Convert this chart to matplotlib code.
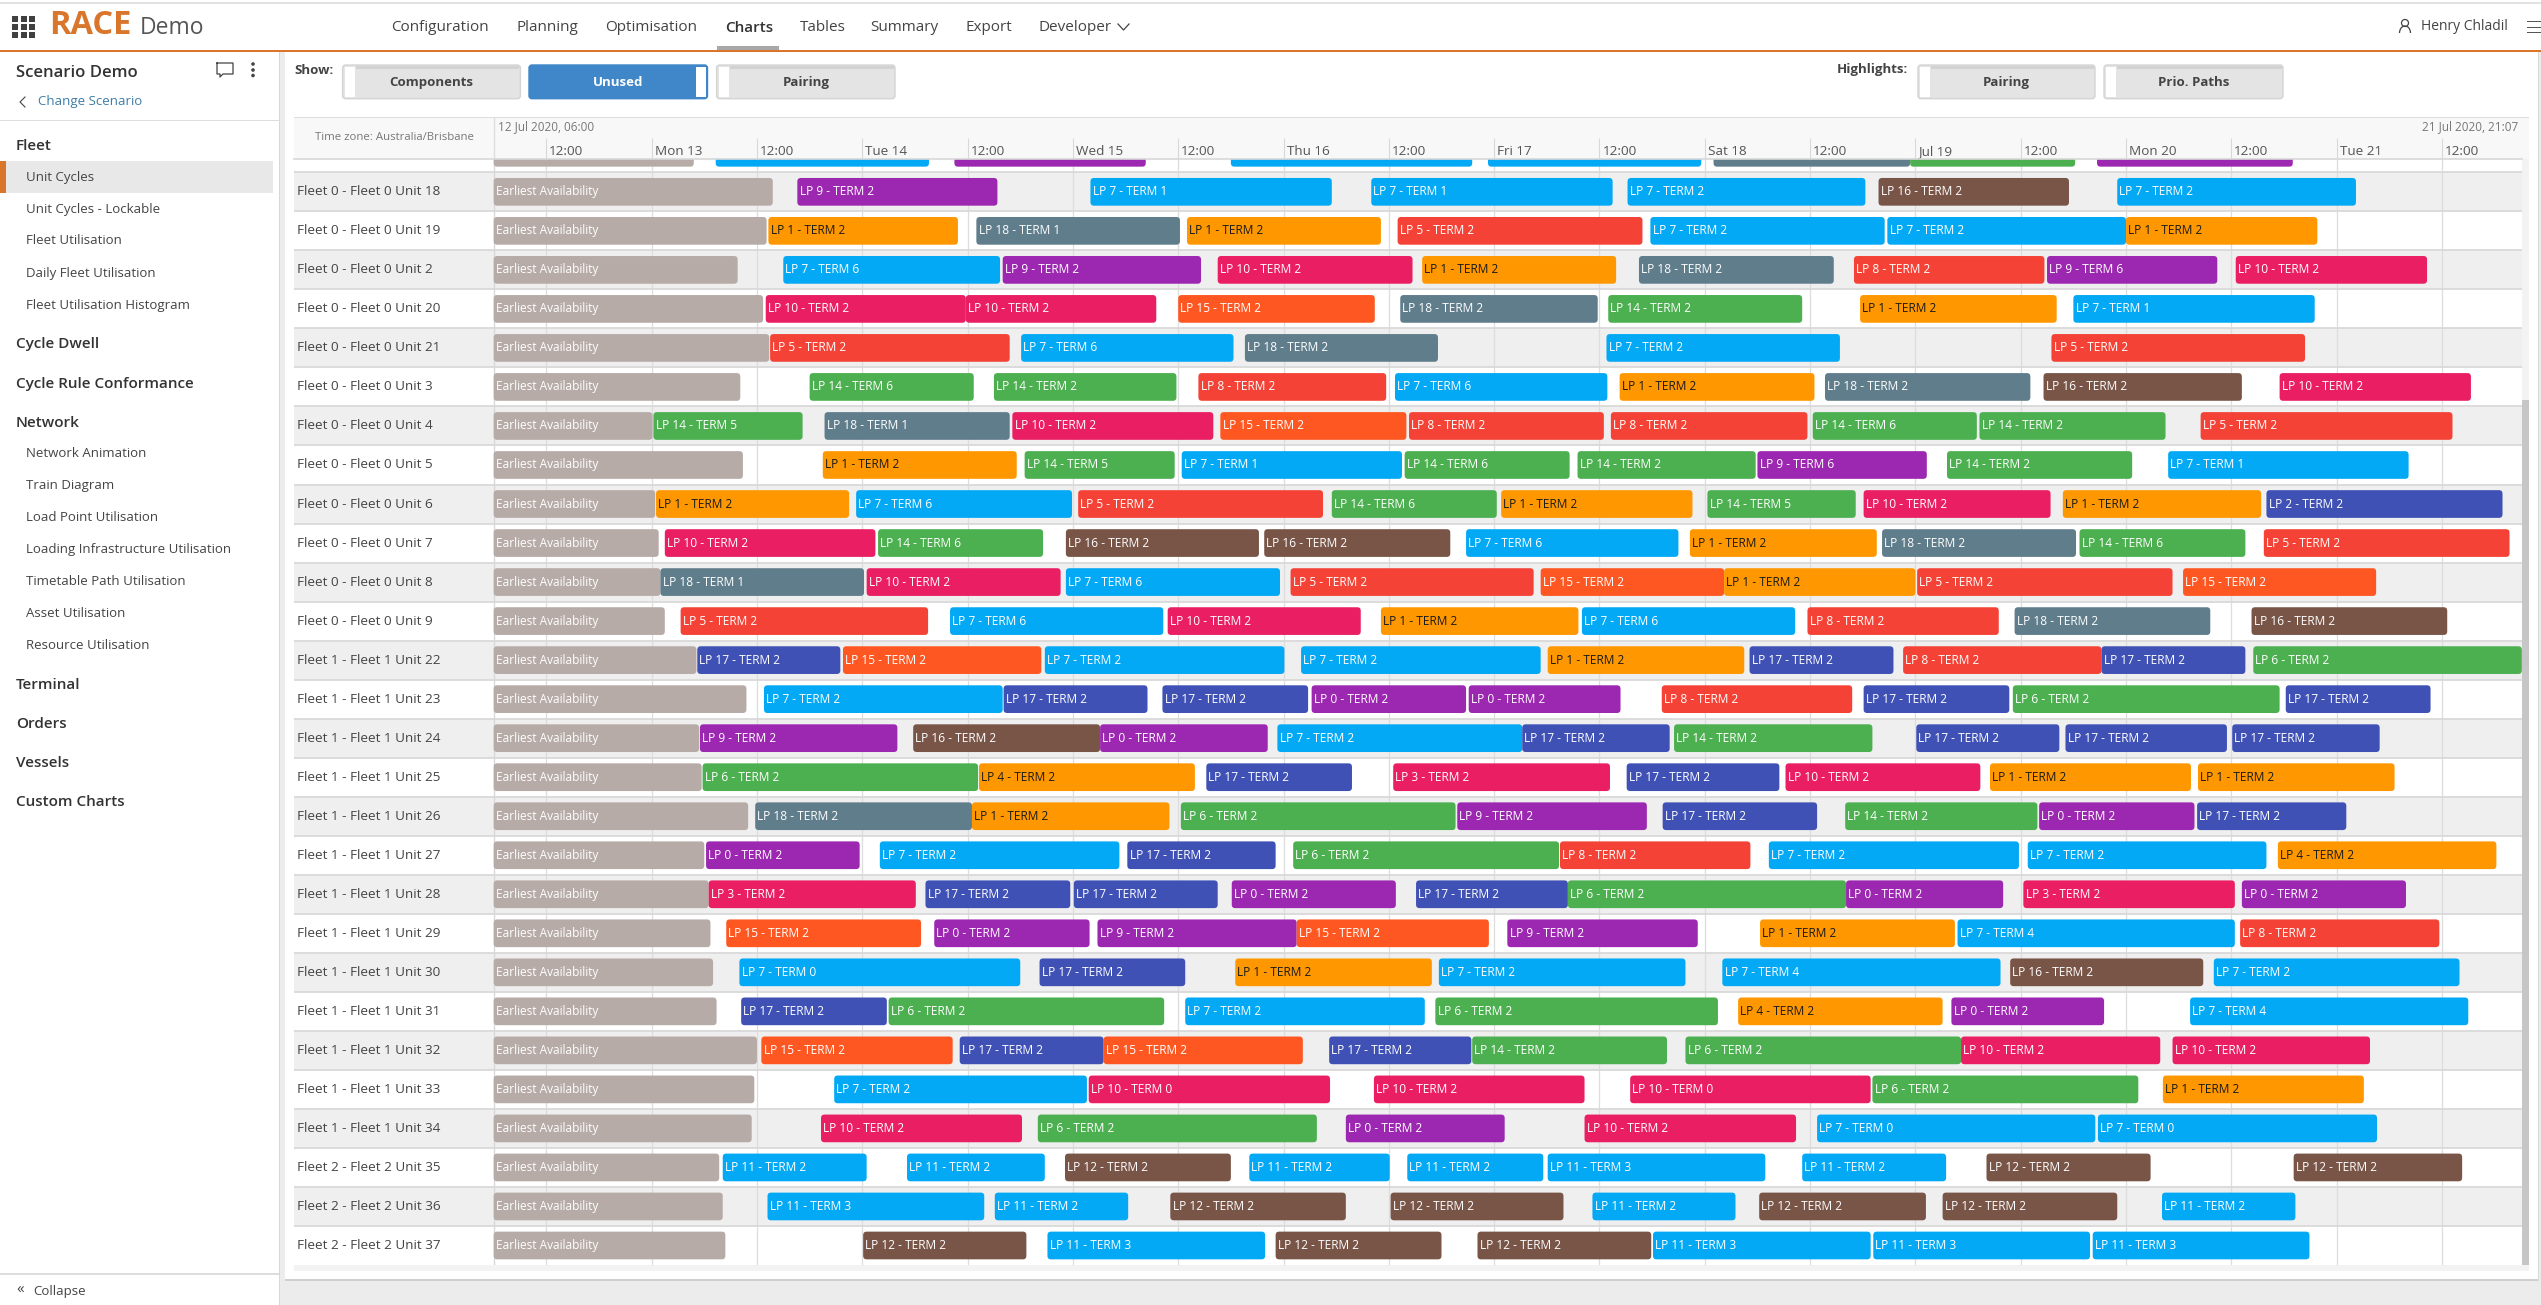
import matplotlib
matplotlib.use("Agg")
import matplotlib.pyplot as plt
from matplotlib.patches import FancyBboxPatch, Rectangle, Circle, Arc
from matplotlib.transforms import ScaledTranslation

plt.rcParams["font.family"] = ["Open Sans", "DejaVu Sans"]

# Data, all times are hours after 12 Jul 2020 00:00
unit_labels = [
    "Fleet 0 - Fleet 0 Unit 18", "Fleet 0 - Fleet 0 Unit 19", "Fleet 0 - Fleet 0 Unit 2",
    "Fleet 0 - Fleet 0 Unit 20", "Fleet 0 - Fleet 0 Unit 21", "Fleet 0 - Fleet 0 Unit 3",
    "Fleet 0 - Fleet 0 Unit 4", "Fleet 0 - Fleet 0 Unit 5", "Fleet 0 - Fleet 0 Unit 6",
    "Fleet 0 - Fleet 0 Unit 7", "Fleet 0 - Fleet 0 Unit 8", "Fleet 0 - Fleet 0 Unit 9",
    "Fleet 1 - Fleet 1 Unit 22", "Fleet 1 - Fleet 1 Unit 23", "Fleet 1 - Fleet 1 Unit 24",
    "Fleet 1 - Fleet 1 Unit 25", "Fleet 1 - Fleet 1 Unit 26", "Fleet 1 - Fleet 1 Unit 27",
    "Fleet 1 - Fleet 1 Unit 28", "Fleet 1 - Fleet 1 Unit 29", "Fleet 1 - Fleet 1 Unit 30",
    "Fleet 1 - Fleet 1 Unit 31", "Fleet 1 - Fleet 1 Unit 32", "Fleet 1 - Fleet 1 Unit 33",
    "Fleet 1 - Fleet 1 Unit 34", "Fleet 2 - Fleet 2 Unit 35", "Fleet 2 - Fleet 2 Unit 36",
    "Fleet 2 - Fleet 2 Unit 37",
]

# end of the "Earliest Availability" block, first entry is the row scrolled off at the top
earliest_end = [28.8, 37.8, 37.1, 33.8, 36.7, 37.4, 34.1, 24.1, 34.4, 24.4, 24.8, 25.0, 25.5,
                29.1, 34.8, 29.4, 29.7, 35.0, 30.0, 30.5, 30.7, 31.0, 31.4, 36.0, 35.7, 35.4,
                31.7, 32.1, 32.4]

# (load point, terminal, start, end)
# the first row is scrolled off, only the lower edge of its bars shows so no text on it
cut_off = [(7, 2, 31.3, 55.6), (9, 2, 58.5, 80.3), (7, 2, 90.0, 117.5), (7, 2, 119.3, 143.6),
           (18, 2, 145.0, 167.4), (14, 2, 167.4, 186.2), (9, 2, 188.7, 211.0)]
u18 = [(9, 2, 40.6, 63.4), (7, 1, 74.0, 101.5), (7, 1, 106.0, 133.5), (7, 2, 135.2, 162.3),
       (16, 2, 163.8, 185.5), (7, 2, 191.0, 218.2)]
u19 = [(1, 2, 37.3, 58.9), (18, 1, 61.0, 84.2), (1, 2, 85.0, 107.1), (5, 2, 109.0, 136.9),
       (7, 2, 137.8, 164.5), (7, 2, 164.8, 192.0), (1, 2, 192.0, 213.8)]
u2 = [(7, 6, 39.0, 63.7), (9, 2, 64.0, 86.6), (10, 2, 88.5, 110.7), (1, 2, 111.8, 133.9),
      (18, 2, 136.5, 158.7), (8, 2, 161.0, 182.7), (9, 6, 183.0, 202.4), (10, 2, 204.5, 226.3)]
u20 = [(10, 2, 37.0, 59.8), (10, 2, 59.8, 81.5), (15, 2, 84.0, 106.4), (18, 2, 109.3, 131.8),
       (14, 2, 133.0, 155.1), (1, 2, 161.7, 184.1), (7, 1, 186.0, 213.5)]
u21 = [(5, 2, 37.5, 64.8), (7, 6, 66.1, 90.3), (18, 2, 91.6, 113.6), (7, 2, 132.8, 159.4),
       (5, 2, 183.5, 212.4)]
u3 = [(14, 6, 42.0, 60.7), (14, 2, 63.0, 83.8), (8, 2, 86.3, 107.7), (7, 6, 108.7, 132.9),
      (1, 2, 134.3, 156.5), (18, 2, 157.7, 181.1), (16, 2, 182.6, 205.2), (10, 2, 209.5, 231.3)]
u4 = [(14, 5, 24.2, 41.2), (18, 1, 43.7, 64.8), (10, 2, 65.1, 88.0), (15, 2, 88.8, 110.0),
      (8, 2, 110.3, 132.5), (8, 2, 133.3, 155.7), (14, 6, 156.3, 175.0), (14, 2, 175.3, 196.5),
      (5, 2, 200.5, 229.2)]
u5 = [(1, 2, 43.5, 65.6), (14, 5, 66.5, 83.6), (7, 1, 84.4, 109.5), (14, 6, 109.8, 128.6),
      (14, 2, 129.5, 149.8), (9, 6, 150.0, 169.3), (14, 2, 171.6, 192.7), (7, 1, 196.8, 224.2)]
u6 = [(1, 2, 24.5, 46.5), (7, 6, 47.3, 71.9), (5, 2, 72.6, 100.5), (14, 6, 101.5, 120.3),
      (1, 2, 120.8, 142.6), (14, 5, 144.3, 161.2), (10, 2, 162.1, 183.4), (1, 2, 184.8, 207.4),
      (2, 2, 208.0, 234.9)]
u7 = [(10, 2, 25.5, 49.5), (14, 6, 49.8, 68.6), (16, 2, 71.2, 93.2), (16, 2, 93.8, 115.0),
      (7, 6, 116.8, 141.0), (1, 2, 142.3, 163.6), (18, 2, 164.2, 186.3), (14, 6, 186.7, 205.6),
      (5, 2, 207.7, 235.7)]
u8 = [(18, 1, 25.0, 48.2), (10, 2, 48.5, 70.6), (7, 6, 71.2, 95.6), (5, 2, 96.8, 124.5),
      (15, 2, 125.3, 146.2), (1, 2, 146.2, 168.0), (5, 2, 168.2, 197.3), (15, 2, 198.5, 220.5)]
u9 = [(5, 2, 27.3, 55.5), (7, 6, 58.0, 82.3), (10, 2, 82.8, 104.8), (1, 2, 107.1, 129.6),
      (7, 6, 130.0, 154.3), (8, 2, 155.7, 177.5), (18, 2, 179.3, 201.6), (16, 2, 206.3, 228.6)]
u22 = [(17, 2, 29.2, 45.5), (15, 2, 45.8, 68.4), (7, 2, 68.8, 96.1), (7, 2, 98.0, 125.3),
       (1, 2, 126.1, 148.5), (17, 2, 149.1, 165.5), (8, 2, 166.6, 189.2), (17, 2, 189.2, 205.6),
       (6, 2, 206.5, 237.1)]
u23 = [(7, 2, 36.8, 64.0), (17, 2, 64.1, 80.5), (17, 2, 82.2, 98.8), (0, 2, 99.2, 116.8),
       (0, 2, 117.1, 134.4), (8, 2, 139.1, 160.8), (17, 2, 162.1, 178.7), (6, 2, 179.1, 209.5),
       (17, 2, 210.2, 226.7)]
u24 = [(9, 2, 29.5, 52.0), (16, 2, 53.8, 75.1), (0, 2, 75.1, 94.2), (7, 2, 95.3, 123.2),
       (17, 2, 123.2, 140.0), (14, 2, 140.5, 163.1), (17, 2, 168.1, 184.4), (17, 2, 185.1, 203.5),
       (17, 2, 204.1, 220.9)]
u25 = [(6, 2, 29.8, 61.2), (4, 2, 61.3, 85.9), (17, 2, 87.2, 103.8), (3, 2, 108.5, 133.2),
       (17, 2, 135.1, 152.5), (10, 2, 153.2, 175.4), (1, 2, 176.5, 199.4), (1, 2, 200.2, 222.6)]
u26 = [(18, 2, 35.8, 60.5), (1, 2, 60.5, 83.0), (6, 2, 84.3, 115.6), (9, 2, 115.8, 137.4),
       (17, 2, 139.2, 156.8), (14, 2, 160.0, 181.9), (0, 2, 182.1, 199.8), (17, 2, 200.1, 217.1)]
u27 = [(0, 2, 30.2, 47.7), (7, 2, 50.0, 77.3), (17, 2, 78.2, 95.1), (6, 2, 97.1, 127.4),
       (8, 2, 127.5, 149.2), (7, 2, 151.3, 179.8), (7, 2, 180.8, 208.0), (4, 2, 209.3, 234.2)]
u28 = [(3, 2, 30.5, 54.1), (17, 2, 55.2, 71.7), (17, 2, 72.1, 88.5), (0, 2, 90.1, 108.8),
       (17, 2, 111.1, 128.4), (6, 2, 128.4, 160.1), (0, 2, 160.1, 178.0), (3, 2, 180.3, 204.4),
       (0, 2, 205.2, 223.9)]
u29 = [(15, 2, 32.5, 54.7), (0, 2, 56.2, 73.9), (9, 2, 74.8, 97.5), (15, 2, 97.5, 119.4),
       (9, 2, 121.5, 143.2), (1, 2, 150.3, 172.5), (7, 4, 172.8, 204.4), (8, 2, 205.0, 227.7)]
u30 = [(7, 0, 34.0, 66.0), (17, 2, 68.2, 84.8), (1, 2, 90.5, 112.9), (7, 2, 113.7, 141.8),
       (7, 4, 146.0, 177.7), (16, 2, 178.8, 200.8), (7, 2, 202.0, 230.0)]
u31 = [(17, 2, 34.2, 50.8), (6, 2, 51.0, 82.4), (7, 2, 84.8, 112.1), (6, 2, 113.3, 145.5),
       (4, 2, 147.8, 171.1), (0, 2, 172.1, 189.5), (7, 4, 199.3, 231.0)]
u32 = [(15, 2, 36.5, 58.3), (17, 2, 59.1, 75.5), (15, 2, 75.5, 98.2), (17, 2, 101.2, 117.4),
       (14, 2, 117.5, 139.7), (6, 2, 141.8, 173.2), (10, 2, 173.2, 195.9), (10, 2, 197.3, 219.8)]
u33 = [(7, 2, 44.8, 73.6), (10, 0, 73.8, 101.3), (10, 2, 106.3, 130.3), (10, 0, 135.5, 162.9),
       (6, 2, 163.1, 193.4), (1, 2, 196.2, 219.1)]
u34 = [(10, 2, 43.3, 66.2), (6, 2, 68.0, 99.8), (0, 2, 103.1, 121.2), (10, 2, 130.3, 154.4),
       (7, 0, 156.8, 188.5), (7, 0, 188.8, 220.6)]
u35 = [(11, 2, 32.1, 48.5), (11, 2, 53.1, 68.8), (12, 2, 71.1, 90.0), (11, 2, 92.1, 108.1),
       (11, 2, 110.1, 125.6), (11, 3, 126.1, 150.9), (11, 2, 155.1, 171.5), (12, 2, 176.1, 194.8),
       (12, 2, 211.1, 230.3)]
u36 = [(11, 3, 37.2, 61.9), (11, 2, 63.1, 78.3), (12, 2, 83.1, 103.1), (12, 2, 108.2, 127.9),
       (11, 2, 131.2, 147.5), (12, 2, 150.2, 169.2), (12, 2, 171.1, 191.0), (11, 2, 196.1, 211.3)]
u37 = [(12, 2, 48.1, 66.7), (11, 3, 69.1, 93.9), (12, 2, 95.1, 114.0), (12, 2, 118.1, 137.9),
       (11, 3, 138.1, 162.9), (11, 3, 163.2, 187.9), (11, 3, 188.2, 212.9)]

rows = [cut_off, u18, u19, u2, u20, u21, u3, u4, u5, u6, u7, u8, u9, u22, u23, u24, u25, u26, u27,
        u28, u29, u30, u31, u32, u33, u34, u35, u36, u37]

tick_hours = [12, 24, 36, 48, 60, 72, 84, 96, 108, 120, 132, 144, 156, 168, 180, 192, 204, 216, 228]
tick_labels = ["12:00", "Mon 13", "12:00", "Tue 14", "12:00", "Wed 15", "12:00", "Thu 16", "12:00",
               "Fri 17", "12:00", "Sat 18", "12:00", "Jul 19", "12:00", "Mon 20", "12:00", "Tue 21",
               "12:00"]

fleet_items = ["Unit Cycles", "Unit Cycles - Lockable", "Fleet Utilisation",
               "Daily Fleet Utilisation", "Fleet Utilisation Histogram"]
network_items = ["Network Animation", "Train Diagram", "Load Point Utilisation",
                 "Loading Infrastructure Utilisation", "Timetable Path Utilisation",
                 "Asset Utilisation", "Resource Utilisation"]

lp_colors = {0: "#9C27B0", 9: "#9C27B0", 1: "#FF9800", 4: "#FF9800", 2: "#3F51B5", 17: "#3F51B5",
             3: "#E91E63", 10: "#E91E63", 5: "#F44336", 8: "#F44336", 6: "#4CAF50", 14: "#4CAF50",
             7: "#03A9F4", 11: "#03A9F4", 12: "#795548", 16: "#795548", 15: "#FF5722", 18: "#607D8B"}
EARLIEST = "#B6ABA7"
ORANGE = "#D9762C"
TEXT = "#444444"

W, H = 2541, 1305
fig = plt.figure(figsize=(W / 100, H / 100), dpi=100, facecolor="white")

# page furniture, drawn in pixel coordinates
bg = fig.add_axes([0, 0, 1, 1], zorder=0)
bg.set_xlim(0, W)
bg.set_ylim(H, 0)
bg.axis("off")


def box(x0, y0, x1, y1, color, **kw):
    bg.add_patch(Rectangle((x0, y0), x1 - x0, y1 - y0, facecolor=color, edgecolor="none", **kw))


def label(x, y, s, size=10, color=TEXT, weight="normal", ha="left"):
    bg.text(x, y, s, fontsize=size, color=color, fontweight=weight, ha=ha, va="center")


def button(x0, x1, s, on=False):
    y0, y1 = 65, 98.7
    face = "#3F87C8" if on else "#E4E4E4"
    bg.add_patch(FancyBboxPatch((x0, y0), x1 - x0, y1 - y0, boxstyle="round,pad=0,rounding_size=3",
                                facecolor=face, edgecolor="#3F87C8" if on else "#D4D4D4", linewidth=1))
    if not on:
        box(x0 + 13, y0 + 1, x1 - 1, y0 + 4, "#D2D2D2")
    if on:
        box(x1 - 12, y0 + 2, x1 - 2, y1 - 2, "white")
    else:
        box(x0 + 2, y0 + 2, x0 + 12, y1 - 2, "white")
    label((x0 + x1) / 2, 82.3, s, size=9.5, weight="bold", color="white" if on else TEXT, ha="center")


# background of the working area
box(279, 52, W, H, "#ECECEC")
box(285, 52, 2538, 1279, "white")
box(285, 1279, 2538, 1281, "#CFCFCF")
box(2538, 52, 2539, 1281, "#DADADA")
box(279, 52, 280, H, "#D8D8D8")

# top bar
box(0, 2, W, 3.5, "#E2E2E2")
box(0, 49.5, W, 52, ORANGE)
for i in range(3):
    for j in range(3):
        box(12 + i * 8.6, 15.5 + j * 8.3, 18 + i * 8.6, 21.5 + j * 8.3, "#404040")
label(49, 26, "RACE", size=23.5, color=ORANGE, weight="bold")
label(140, 28, "Demo", size=16.5, color="#555555")
nav_names = ["Configuration", "Planning", "Optimisation", "Charts", "Tables", "Summary", "Export",
             "Developer"]
nav_x = [391, 517, 605.5, 725, 800, 870.6, 965.5, 1038.6]
for n, x in zip(nav_names, nav_x):
    label(x, 27.5, n, size=11, color="#333333" if n == "Charts" else TEXT,
          weight="semibold" if n == "Charts" else "normal")
box(717, 46, 779, 49.5, "#A8A8A8")
bg.plot([1118, 1123.5, 1129], [24, 30, 24], color=TEXT, lw=0.9)
bg.add_patch(Circle((2405, 23), 3.5, facecolor="none", edgecolor=TEXT, lw=0.9))
bg.add_patch(Arc((2405, 33), 11, 14, theta1=180, theta2=360, edgecolor=TEXT, lw=0.9))
label(2421, 26, "Henry Chladil", size=10, color=TEXT)
for y in (21, 26.5, 32):
    box(2527, y, W, y + 1, "#555555")

# sidebar
label(15.7, 73, "Scenario Demo", size=12, weight="semibold", color="#333333")
bg.plot([217, 233, 233, 223, 220, 220, 217, 217], [63, 63, 74, 74, 77, 74, 74, 63], color=TEXT, lw=0.9)
for y in (64, 70, 75.5):
    bg.add_patch(Circle((253, y), 1.1, color=TEXT))
bg.plot([25, 20, 25], [97, 102, 107], color=TEXT, lw=0.8)
label(38, 102, "Change Scenario", size=9.5, color="#3C7DA6")
box(0, 119.5, 279, 121, "#DDDDDD")
box(0, 161, 273, 192.7, "#E8E8E8")
box(0, 161, 6, 192.7, ORANGE)
label(15.7, 145.7, "Fleet", size=11, weight="semibold", color="#333333")
for k, s in enumerate(fleet_items):
    label(26, 177 + k * 32, s, size=9.5)
label(15.7, 344.3, "Cycle Dwell", size=11, weight="semibold", color="#333333")
label(15.7, 383.7, "Cycle Rule Conformance", size=11, weight="semibold", color="#333333")
label(15.7, 422.7, "Network", size=11, weight="semibold", color="#333333")
for k, s in enumerate(network_items):
    label(26, 453.3 + k * 32, s, size=9.5)
label(15.7, 684.7, "Terminal", size=11, weight="semibold", color="#333333")
label(15.7, 723.7, "Orders", size=11, weight="semibold", color="#333333")
label(15.7, 762.7, "Vessels", size=11, weight="semibold", color="#333333")
label(15.7, 801.7, "Custom Charts", size=11, weight="semibold", color="#333333")
box(0, 1273, 279, 1274.5, "#DDDDDD")
label(16, 1290, "\u00ab", size=11, color=TEXT)
label(33, 1291, "Collapse", size=9.5)

# toggle buttons
label(294, 70, "Show:", size=9.5, weight="bold")
label(1837, 70, "Highlights:", size=9.5, weight="bold")
button(342.6, 520.4, "Components")
button(529, 707.5, "Unused", on=True)
button(716.6, 895, "Pairing")
button(1918, 2095, "Pairing")
button(2104, 2283, "Prio. Paths")

# chart header and scrollbar
box(294, 117, 2529, 159, "#F8F8F8")
box(294, 116.5, 2529, 118, "#DDDDDD")
bg.plot([493.7, 493.7], [118, 159], color="#DDDDDD", lw=1)
label(394, 137.7, "Time zone: Australia/Brisbane", size=8.2, color="#777777", ha="center")
label(498, 126.7, "12 Jul 2020, 06:00", size=8.5, color="#777777")
label(2518.5, 126.7, "21 Jul 2020, 21:07", size=8.5, color="#777777", ha="right")
box(2522, 159, 2529, 1265, "#F3F3F3")
box(2522, 400, 2529, 1265, "#C6C6C6")
box(294, 1265, 2529, 1271, "#F3F3F3")

# the chart itself: 8.777 px per hour, 39 px per row
ax = fig.add_axes([294.3 / W, 1 - 1265 / H, (2522 - 294.3) / W, (1265 - 158.7) / H], zorder=1)
ax.set_xlim(6 - (493.7 - 294.3) / 8.777, 237.12)
ax.set_ylim(27.5, -0.5 - 13.6 / 39)
ax.set_axisbelow(True)
for s in ("left", "right", "bottom"):
    ax.spines[s].set_visible(False)
ax.spines["top"].set_color("#D8D8D8")
ax.spines["top"].set_linewidth(1.2)

for r in range(-1, 28):
    if r % 2 == 0:
        ax.axhspan(r - 0.5, r + 0.5, facecolor="#EFEFEF", edgecolor="none", zorder=0.1)
    ax.axhline(r - 0.5, color="#D9D9D9", lw=1.3, zorder=0.6)
ax.axvline(6, color="#D8D8D8", lw=1, zorder=0.6)

ax.set_xticks(tick_hours, tick_labels)
ax.xaxis.tick_top()
ax.tick_params(axis="x", length=15, width=0.8, color="#D8D8D8", pad=-14.5, labelsize=9.7, labelcolor="#555555")
shift = ScaledTranslation(3 / 100, 0, fig.dpi_scale_trans)
for t in ax.get_xticklabels():
    t.set_ha("left")
    t.set_transform(t.get_transform() + shift)
ax.grid(axis="x", color="#DDDDDD", lw=0.9)

ax.set_yticks(range(28), unit_labels, ha="left", va="center")
ax.tick_params(axis="y", length=0, pad=-2, labelsize=9.7, labelcolor=TEXT)


def draw_bar(row, start, end, color, text=None, text_color="white"):
    ax.add_patch(FancyBboxPatch((start, row - 0.355), end - start, 0.71,
                                boxstyle="round,pad=0,rounding_size=0.4", mutation_aspect=0.2256,
                                facecolor=color, edgecolor="none", zorder=2))
    if text:
        ax.text(start + 0.25, row, text, fontsize=8.6, color=text_color, ha="left", va="center",
                zorder=3, clip_on=True)


for r, (bars, e_end) in enumerate(zip(rows, earliest_end)):
    row = r - 1
    draw_bar(row, 6, e_end, EARLIEST, "Earliest Availability" if row >= 0 else None)
    for lp, term, start, end in bars:
        color = lp_colors[lp]
        draw_bar(row, start, end, color, "LP %d - TERM %d" % (lp, term) if row >= 0 else None,
                 "#1A1A1A" if color == "#FF9800" else "white")

fig.savefig("out.png", dpi=100)
